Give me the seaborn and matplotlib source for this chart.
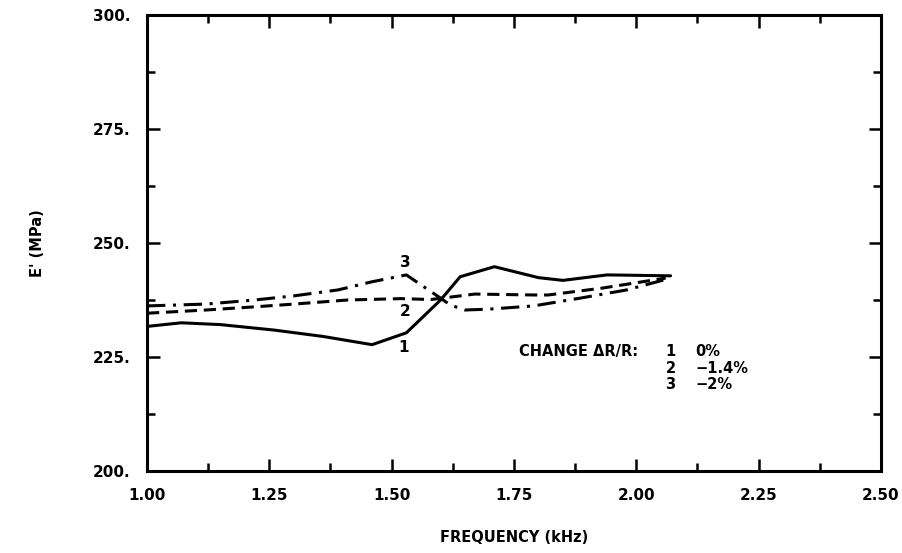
import pandas as pd
import numpy as np
import matplotlib
matplotlib.use("Agg")
import matplotlib.pyplot as plt
from matplotlib.ticker import MultipleLocator, FuncFormatter
import seaborn as sns

# curve values (frequency in kHz, E' in MPa)
freq_1 = [1.00, 1.07, 1.15, 1.26, 1.36, 1.46, 1.53, 1.60, 1.64, 1.71, 1.80, 1.85, 1.94, 2.07]
e_1 = [231.7, 232.5, 232.1, 230.9, 229.5, 227.7, 230.3, 237.5, 242.6, 244.8, 242.4, 241.8, 243.0, 242.8]

freq_2 = [1.00, 1.12, 1.22, 1.30, 1.41, 1.52, 1.58, 1.67, 1.79, 1.82, 1.93, 2.06]
e_2 = [234.6, 235.3, 236.0, 236.6, 237.5, 237.8, 237.6, 238.8, 238.6, 238.6, 240.1, 242.3]

freq_3 = [1.00, 1.12, 1.22, 1.30, 1.39, 1.46, 1.53, 1.585, 1.62, 1.65, 1.70, 1.79, 1.885, 1.98, 2.06]
e_3 = [236.2, 236.6, 237.5, 238.4, 239.7, 241.5, 243.0, 239.0, 236.4, 235.3, 235.5, 236.2, 237.9, 239.7, 242.0]

curve_ids = ["1", "2", "3"]
changes = ["0%", "\u22121.4%", "\u22122%"]

df = pd.concat([
    pd.DataFrame({"freq": freq_1, "E": e_1, "curve": "1"}),
    pd.DataFrame({"freq": freq_2, "E": e_2, "curve": "2"}),
    pd.DataFrame({"freq": freq_3, "E": e_3, "curve": "3"}),
])

sns.set_style("ticks", {"axes.edgecolor": "black", "text.color": "black",
                        "axes.labelcolor": "black", "xtick.color": "black",
                        "ytick.color": "black"})
plt.rcParams["font.family"] = ["DejaVu Sans"]
plt.rcParams["font.weight"] = "bold"

fig = plt.figure(figsize=(9.03, 5.53), dpi=100)
ax = fig.add_axes([0.1628, 0.1483, 0.8128, 0.8246])

sns.lineplot(data=df, x="freq", y="E", style="curve", color="black",
             dashes={"1": "", "2": (4, 2.2), "3": (6, 2.5, 1, 2.5)},
             linewidth=2.2, estimator=None, sort=False, legend=False, ax=ax)

ax.set_xlim(1.0, 2.5)
ax.set_ylim(200, 300)
ax.xaxis.set_major_locator(MultipleLocator(0.25))
ax.xaxis.set_minor_locator(MultipleLocator(0.125))
ax.yaxis.set_major_locator(MultipleLocator(25))
ax.yaxis.set_minor_locator(MultipleLocator(12.5))
ax.xaxis.set_major_formatter(FuncFormatter(lambda v, p: f"{v:.2f}"))
ax.yaxis.set_major_formatter(FuncFormatter(lambda v, p: f"{v:.0f}."))

ax.tick_params(which="both", direction="in", top=True, right=True, width=1.8,
               colors="black")
ax.tick_params(which="major", length=9, labelsize=11, pad=12)
ax.tick_params(which="minor", length=6)
for s in ax.spines.values():
    s.set_linewidth(2.2)
    s.set_color("black")
    s.set_visible(True)

ax.set_xlabel("FREQUENCY (kHz)", fontsize=10.5, fontweight="bold", labelpad=20)
ax.set_ylabel("E' (MPa)", fontsize=10.5, fontweight="bold", labelpad=34)

# curve number labels
ax.text(1.528, 245.8, "3", fontsize=11, fontweight="bold", ha="center", va="center")
ax.text(1.528, 234.9, "2", fontsize=11, fontweight="bold", ha="center", va="center")
ax.text(1.524, 227.0, "1", fontsize=11, fontweight="bold", ha="center", va="center")

# change legend text
ax.text(1.76, 226.1, "CHANGE \u0394R/R:", fontsize=10.5, fontweight="bold", ha="left", va="center")
for i, (cid, ch) in enumerate(zip(curve_ids, changes)):
    yv = 226.1 - i * 3.6
    ax.text(2.07, yv, cid, fontsize=10.5, fontweight="bold", ha="center", va="center")
    ax.text(2.12, yv, ch, fontsize=10.5, fontweight="bold", ha="left", va="center")

fig.savefig("out.png", dpi=100)
